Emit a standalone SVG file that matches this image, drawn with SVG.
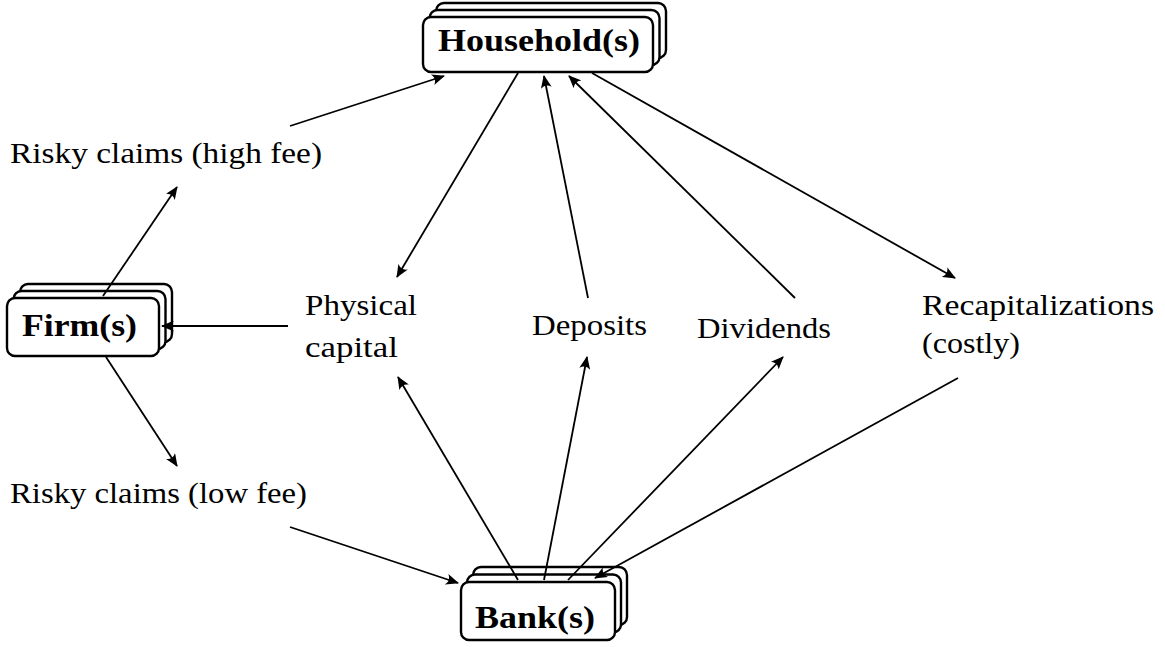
<svg xmlns="http://www.w3.org/2000/svg" width="1165" height="647" viewBox="0 0 1165 647">
<style>
.box{fill:#fff;stroke:#000;stroke-width:2.4}
.nl{font-family:'Liberation Serif',Tinos,'Times New Roman',serif;font-weight:bold;font-size:31.5px;fill:#000}
.lb{font-family:'Liberation Serif',Tinos,'Times New Roman',serif;font-size:28.5px;fill:#000}
.ln{stroke:#000;stroke-width:1.8;fill:none;marker-end:url(#ah)}
</style>
<defs>
<marker id="ah" viewBox="0 0 13 11" refX="12" refY="5.5" markerWidth="13" markerHeight="11" markerUnits="userSpaceOnUse" orient="auto">
<path d="M0,0 Q4.5,5.5 0,11 L13,5.5 Z" fill="#000"/>
</marker>
</defs>
<rect width="1165" height="647" fill="#fff"/>
<g id="household">
<rect class="box" x="436" y="3" width="230" height="55" rx="8"/>
<rect class="box" x="429.5" y="10" width="230" height="55" rx="8"/>
<rect class="box" x="423" y="17" width="230" height="55" rx="8"/>
<text class="nl" x="438" y="51" textLength="202" lengthAdjust="spacingAndGlyphs">Household(s)</text>
</g>
<g id="firm">
<rect class="box" x="20" y="284" width="152" height="58" rx="8"/>
<rect class="box" x="13.5" y="291" width="152" height="58" rx="8"/>
<rect class="box" x="7" y="298" width="152" height="58" rx="8"/>
<text class="nl" x="22" y="336" textLength="115" lengthAdjust="spacingAndGlyphs">Firm(s)</text>
</g>
<g id="bank">
<rect class="box" x="473" y="567" width="154" height="58" rx="8"/>
<rect class="box" x="467" y="574.5" width="154" height="58" rx="8"/>
<rect class="box" x="461" y="582" width="154" height="58" rx="8"/>
<text class="nl" x="475" y="628" textLength="120" lengthAdjust="spacingAndGlyphs">Bank(s)</text>
</g>
<g id="labels">
<text class="lb" x="10" y="163" textLength="312" lengthAdjust="spacingAndGlyphs">Risky claims (high fee)</text>
<text class="lb" x="10" y="503" textLength="297" lengthAdjust="spacingAndGlyphs">Risky claims (low fee)</text>
<text class="lb" x="305" y="315" textLength="112" lengthAdjust="spacingAndGlyphs">Physical</text>
<text class="lb" x="305" y="357" textLength="93" lengthAdjust="spacingAndGlyphs">capital</text>
<text class="lb" x="532" y="335" textLength="115" lengthAdjust="spacingAndGlyphs">Deposits</text>
<text class="lb" x="697" y="338" textLength="134" lengthAdjust="spacingAndGlyphs">Dividends</text>
<text class="lb" x="922" y="315" textLength="232" lengthAdjust="spacingAndGlyphs">Recapitalizations</text>
<text class="lb" x="922" y="353" textLength="98" lengthAdjust="spacingAndGlyphs">(costly)</text>
</g>
<g id="connectors">
<line class="ln" x1="103" y1="296" x2="177" y2="187"/>
<line class="ln" x1="290" y1="126" x2="444" y2="76"/>
<line class="ln" x1="518" y1="73" x2="397" y2="277"/>
<line class="ln" x1="588" y1="298" x2="544" y2="76"/>
<line class="ln" x1="795" y1="298" x2="569" y2="76"/>
<line class="ln" x1="592" y1="73" x2="955" y2="278"/>
<line class="ln" x1="288" y1="326" x2="162" y2="326"/>
<line class="ln" x1="106" y1="357" x2="177" y2="466"/>
<line class="ln" x1="290" y1="527" x2="458" y2="583"/>
<line class="ln" x1="518" y1="580" x2="398" y2="377"/>
<line class="ln" x1="544" y1="580" x2="587" y2="357"/>
<line class="ln" x1="568" y1="580" x2="783" y2="357"/>
<line class="ln" x1="958" y1="378" x2="595" y2="578"/>
</g>
</svg>
